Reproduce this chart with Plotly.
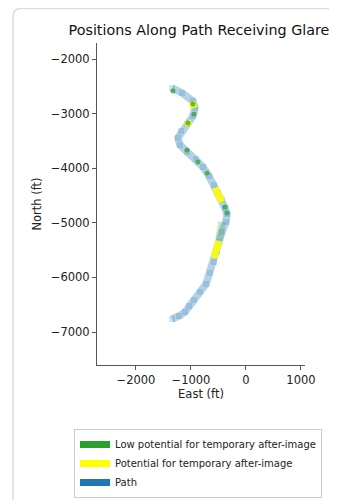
import plotly.graph_objects as go

# ---- data (feet) ----
path_east = [-1345, -1164, -964, -927, -964, -1073, -1182, -1236, -1200, -1073,
             -909, -782, -673, -582, -509, -436, -382, -345, -364, -436,
             -491, -527, -582, -655, -727, -836, -945, -1036, -1109, -1218, -1345]
path_north = [-2531, -2623, -2769, -2897, -3044, -3190, -3319, -3447, -3575, -3703,
              -3832, -3978, -4143, -4308, -4454, -4582, -4729, -4839, -4985, -5168,
              -5352, -5535, -5718, -5919, -6121, -6267, -6414, -6524, -6634, -6707, -6762]

green_pts_east = [-1327, -964, -945, -1055, -1073, -873, -709, -382, -345]
green_pts_north = [-2586, -2824, -3007, -3172, -3667, -3886, -4088, -4711, -4821]

green_seg_east = [-436, -491]
green_seg_north = [-4985, -5315]

yellow_east = [-982, -945, None, -1073, -1036, None, -564, -436, None, -491, -582]
yellow_north = [-2787, -2897, None, -3135, -3227, None, -4363, -4619, None, -5333, -5645]

x_ticks = [-2000, -1000, 0, 1000]
x_ticktext = ["\u22122000", "\u22121000", "0", "1000"]
y_ticks = [-2000, -3000, -4000, -5000, -6000, -7000]
y_ticktext = ["\u22122000", "\u22123000", "\u22124000", "\u22125000", "\u22126000", "\u22127000"]

GREEN = "#2ca02c"
YELLOW = "#ffff00"
BLUE = "#1f77b4"
FONT = "DejaVu Sans"

fig = go.Figure()

# Path
fig.add_trace(go.Scatter(x=path_east, y=path_north, mode="lines",
                         line=dict(color="rgba(31,119,180,0.33)", width=7.5),
                         showlegend=False, hoverinfo="skip"))
fig.add_trace(go.Scatter(x=path_east, y=path_north, mode="markers",
                         marker=dict(symbol="square", size=6, color="rgba(31,119,180,0.2)",
                                     line=dict(width=0)),
                         showlegend=False, hoverinfo="skip"))
# glare segments
fig.add_trace(go.Scatter(x=green_seg_east, y=green_seg_north, mode="lines",
                         line=dict(color="rgba(44,160,44,0.25)", width=7.5),
                         showlegend=False, hoverinfo="skip"))
fig.add_trace(go.Scatter(x=yellow_east, y=yellow_north, mode="lines",
                         line=dict(color="rgba(255,255,0,0.9)", width=7),
                         showlegend=False, hoverinfo="skip"))
fig.add_trace(go.Scatter(x=green_pts_east, y=green_pts_north, mode="markers",
                         marker=dict(symbol="circle", size=5, color="rgba(44,160,44,0.7)",
                                     line=dict(width=0)),
                         showlegend=False, hoverinfo="skip"))

# legend entries
fig.add_trace(go.Scatter(x=[None], y=[None], mode="lines", name="Low potential for temporary after-image",
                         line=dict(color=GREEN, width=7)))
fig.add_trace(go.Scatter(x=[None], y=[None], mode="lines", name="Potential for temporary after-image",
                         line=dict(color=YELLOW, width=7)))
fig.add_trace(go.Scatter(x=[None], y=[None], mode="lines", name="Path",
                         line=dict(color=BLUE, width=7)))

# card border in paper coords (plot area: page x 97..305, page y 43..365)
x0 = (13 - 97) / 208
y0 = (365 - 8.5) / 322
xr = 8 / 208
yr = 8 / 322
card = f"M {x0},-0.6 L {x0},{y0 - yr} Q {x0},{y0} {x0 + xr},{y0} L 1.3,{y0}"

fig.update_layout(
    width=337, height=500,
    margin=dict(l=89, r=40, t=35, b=143, autoexpand=False),
    paper_bgcolor="white", plot_bgcolor="white",
    font=dict(family=FONT, size=11.5, color="#222"),
    title=dict(text="Positions Along Path Receiving Glare", x=191 / 337, xanchor="center",
               y=1 - 22 / 500, yanchor="middle", font=dict(size=14.3, color="#111")),
    shapes=[dict(type="path", path=card, xref="paper", yref="paper",
                 line=dict(color="#dcdcdc", width=1.5), layer="below")],
    legend=dict(x=(74 - 97) / 208, y=(365 - 429) / 322, xanchor="left", yanchor="top",
                font=dict(size=10, color="#222"), bordercolor="#cccccc", borderwidth=1,
                bgcolor="white", itemwidth=30, traceorder="normal"),
)
fig.update_xaxes(range=[-2709, 1073], tickvals=x_ticks, ticktext=x_ticktext,
                 showgrid=False, zeroline=False, showline=True, linecolor="#555", linewidth=1,
                 ticks="outside", ticklen=4, tickcolor="#555", mirror=False, automargin=False,
                 title=dict(text="East (ft)", font=dict(size=11.5), standoff=3))
fig.update_yaxes(range=[-7604, -1707], tickvals=y_ticks, ticktext=y_ticktext,
                 showgrid=False, zeroline=False, showline=True, linecolor="#555", linewidth=1,
                 ticks="outside", ticklen=4, tickcolor="#555", mirror=False, automargin=False,
                 title=dict(text="North (ft)", font=dict(size=11.5), standoff=6))

fig.write_html("out.html")
